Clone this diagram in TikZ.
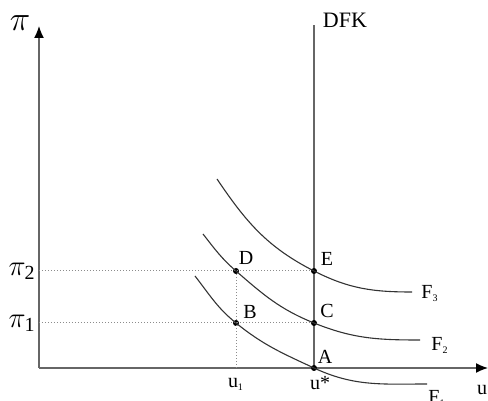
\documentclass[tikz,border=0pt]{standalone}
\usepackage{fontspec}
\setmainfont{Liberation Serif}
\usepackage{amsmath}
\usetikzlibrary{arrows.meta,positioning}

\begin{document}
\begin{tikzpicture}[x=0.5pt,y=0.5pt,>={Latex[length=6pt,width=5pt,color=black]},
  axis/.style={draw=black!60,line width=0.7pt},
  curve/.style={draw=black!80,line width=0.55pt},
  guide/.style={draw=black!45,densely dotted,line width=0.5pt},
  pt/.style={circle,fill=black,inner sep=0pt,minimum size=3pt},
  lab/.style={font=\fontsize{10}{12}\selectfont,inner sep=1pt}]
  \useasboundingbox (-39,-33) rectangle (449,368);
  % axes and the DFK line
  \coordinate (O) at (0,0);
  \coordinate (ytop) at (0,342);
  \coordinate (xend) at (449,0);
  \coordinate (dtop) at (275,343);
  \coordinate (dbot) at (275,-2);
  \draw[axis,->] (O) -- (ytop);
  \draw[axis,->] (O) -- (xend);
  \draw[axis] (dbot) -- (dtop);
  \node[lab,font=\fontsize{11}{13}\selectfont] (dfk) at (306,348) {DFK};
  \node[inner sep=0pt] (piy) at (-19,345) {\LARGE$\pi$};
  \node[lab] (uax) at (443,-22) {u};
  % points
  \node[pt] (A) at (275,0) {};
  \node[pt] (B) at (197,45) {};
  \node[pt] (C) at (275,45) {};
  \node[pt] (D) at (197,97) {};
  \node[pt] (E) at (275,97) {};
  \coordinate (p1) at (0,45);
  \coordinate (p2) at (0,97);
  \coordinate (u1) at (197,0);
  \coordinate (f1s) at (156,92);
  \coordinate (f1e) at (388,-16);
  \coordinate (f2s) at (164,134);
  \coordinate (f2e) at (381,28);
  \coordinate (f3s) at (178,189);
  \coordinate (f3e) at (373,76);
  % dotted guides
  \draw[guide] (p2) -- (E);
  \draw[guide] (p1) -- (C);
  \draw[guide] (D) -- (u1);
  % F curves
  \draw[curve] (f1s) to[out=-52,in=141] (B.center) to[out=-39,in=155] (A.center) to[out=-25,in=180] (f1e);
  \draw[curve] (f2s) to[out=-52,in=139] (D.center) to[out=-41,in=158] (C.center) to[out=-22,in=180] (f2e);
  \draw[curve] (f3s) to[out=-56,in=153] (E.center) to[out=-27,in=180] (f3e);
  % labels
  \node[lab] (lA) at (286,11) {A};
  \node[lab] (lB) at (211,56) {B};
  \node[lab] (lC) at (288,57) {C};
  \node[lab] (lD) at (207,110) {D};
  \node[lab] (lE) at (288,109) {E};
  \node[lab] (lu1) at (197,-16) {u\textsubscript{\tiny 1}};
  \node[lab] (lus) at (281,-15) {u*};
  \node[inner sep=0pt,anchor=east] (lp2) at (-3,97) {\Large$\pi_{\text{2}}$};
  \node[inner sep=0pt,anchor=east] (lp1) at (-3,45) {\Large$\pi_{\text{1}}$};
  \node[lab,anchor=west] (lF3) at (380,74) {F\textsubscript{\tiny 3}};
  \node[lab,anchor=west] (lF2) at (390,23) {F\textsubscript{\tiny 2}};
  \node[lab,anchor=west] (lF1) at (387,-30) {F\textsubscript{\tiny 1}};
\end{tikzpicture}
\end{document}
